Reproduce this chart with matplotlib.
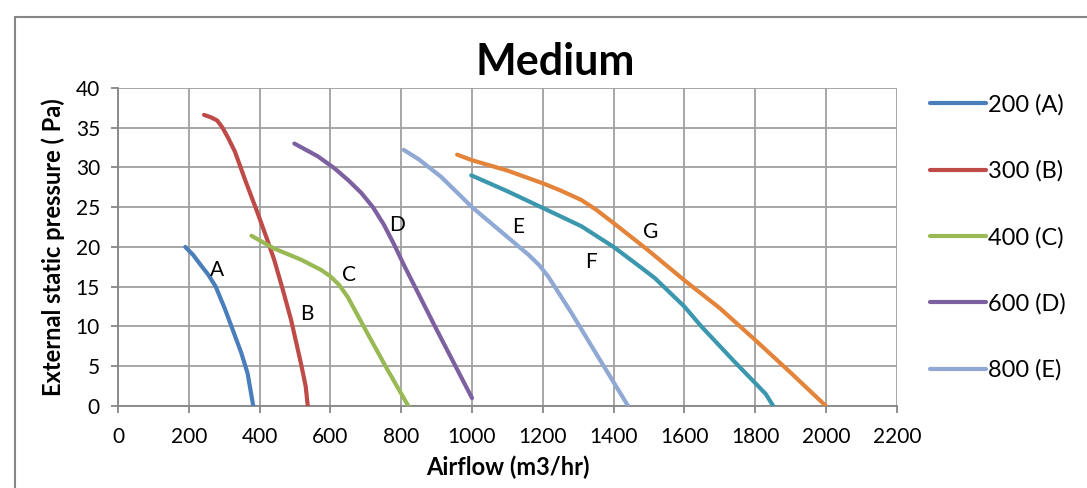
import matplotlib
matplotlib.use("Agg")
from matplotlib import pyplot as plt
from matplotlib.patches import Rectangle

plt.rcParams["font.family"] = ["Lato", "DejaVu Sans"]

# fan curves (airflow m3/hr, pressure Pa)
a_x = [190, 212, 234, 255, 276, 302, 328, 348, 366, 382]
a_y = [20.0, 19.0, 17.7, 16.5, 15.0, 12.2, 9.1, 6.7, 4.1, 0.0]
b_x = [243, 262, 280, 295, 310, 330, 360, 394, 420, 441, 465, 489, 517, 530, 536]
b_y = [36.6, 36.3, 35.9, 35.0, 33.8, 32.0, 28.3, 24.3, 21.1, 18.4, 14.7, 10.8, 5.3, 2.5, 0.0]
c_x = [377, 441, 517, 574, 600, 625, 649, 705, 762, 820]
c_y = [21.4, 19.8, 18.4, 17.1, 16.3, 15.2, 13.7, 9.1, 4.5, 0.0]
d_x = [498, 564, 611, 650, 687, 720, 751, 780, 809, 850, 900, 950, 1000]
d_y = [33.0, 31.4, 29.9, 28.4, 26.8, 25.0, 22.8, 20.3, 17.6, 14.0, 9.6, 5.3, 1.0]
e_x = [807, 850, 913, 1000, 1080, 1120, 1160, 1190, 1215, 1281, 1356, 1441]
e_y = [32.2, 31.0, 28.8, 25.0, 22.0, 20.5, 19.0, 17.7, 16.3, 11.7, 6.2, 0.0]
f_x = [998, 1100, 1200, 1309, 1400, 1460, 1516, 1600, 1648, 1743, 1802, 1830, 1851]
f_y = [29.0, 27.0, 24.9, 22.6, 20.0, 18.0, 16.1, 12.5, 10.0, 5.5, 2.8, 1.5, 0.0]
g_x = [958, 1000, 1100, 1200, 1250, 1309, 1350, 1400, 1497, 1600, 1700, 1800, 1900, 2000]
g_y = [31.6, 30.9, 29.6, 28.0, 27.1, 25.9, 24.7, 23.0, 19.6, 15.8, 12.3, 8.3, 4.2, 0.0]

series = [
    ("200 (A)", a_x, a_y, "#4A7EBB"),
    ("300 (B)", b_x, b_y, "#BE4B48"),
    ("400 (C)", c_x, c_y, "#98B954"),
    ("600 (D)", d_x, d_y, "#7D60A0"),
    ("800 (E)", e_x, e_y, "#8FA8D4"),
    ("F", f_x, f_y, "#3A97AD"),
    ("G", g_x, g_y, "#E4843A"),
]
in_legend = 5

# curve letters placed beside each line
tag_text = ["A", "B", "C", "D", "E", "F", "G"]
tag_x = [279, 534, 652, 788, 1131, 1337, 1504]
tag_y = [17.1, 11.6, 16.5, 22.8, 22.5, 18.1, 21.9]

x_ticks = list(range(0, 2201, 200))
y_ticks = list(range(0, 41, 5))

fig = plt.figure(figsize=(10.87, 4.88), dpi=100)
ax = fig.add_axes([0.1086, 0.168, 0.7164, 0.652])

handles = []
for name, xs, ys, col in series:
    ln, = ax.plot(xs, ys, color=col, lw=3.0, solid_capstyle="round",
                  solid_joinstyle="round", zorder=3)
    handles.append(ln)

for t, x, y in zip(tag_text, tag_x, tag_y):
    ax.text(x, y, t, fontsize=15, ha="center", va="center", color="black")

ax.set_xlim(0, 2200)
ax.set_ylim(0, 40)
ax.set_xticks(x_ticks)
ax.set_yticks(y_ticks)
ax.grid(True, color="#A0A0A0", lw=1.3, zorder=0)
ax.set_axisbelow(True)
for s in ("top", "right"):
    ax.spines[s].set_visible(False)
for s in ("left", "bottom"):
    ax.spines[s].set_color("#868686")
    ax.spines[s].set_linewidth(1.3)
ax.tick_params(direction="out", length=5, width=1.3, color="#868686",
               labelsize=15)
ax.tick_params(axis="x", pad=10)
ax.tick_params(axis="y", pad=8)

ax.set_xlabel("Airflow (m3/hr)", fontsize=17, fontweight="bold", labelpad=6)
ax.set_ylabel("External static pressure ( Pa)", fontsize=17,
              fontweight="bold", labelpad=8)
fig.text(0.511, 0.873, "Medium", fontsize=31, fontweight="bold",
         ha="center", va="center")

fig.legend(handles[:in_legend], [s[0] for s in series[:in_legend]],
           loc="upper left", bbox_to_anchor=(0.8556, 0.8075), frameon=False,
           fontsize=17, handlelength=2.35, handletextpad=0.12,
           labelspacing=1.9, borderaxespad=0, borderpad=0)

# chart-area border (runs off the right and bottom edge in the reference)
fig.patches.append(Rectangle((15 / 1087, -0.1), 1.2, 1.1 - 17 / 488,
                             transform=fig.transFigure, fill=False,
                             edgecolor="#868686", lw=1.5))

fig.savefig("out.png", dpi=100)
